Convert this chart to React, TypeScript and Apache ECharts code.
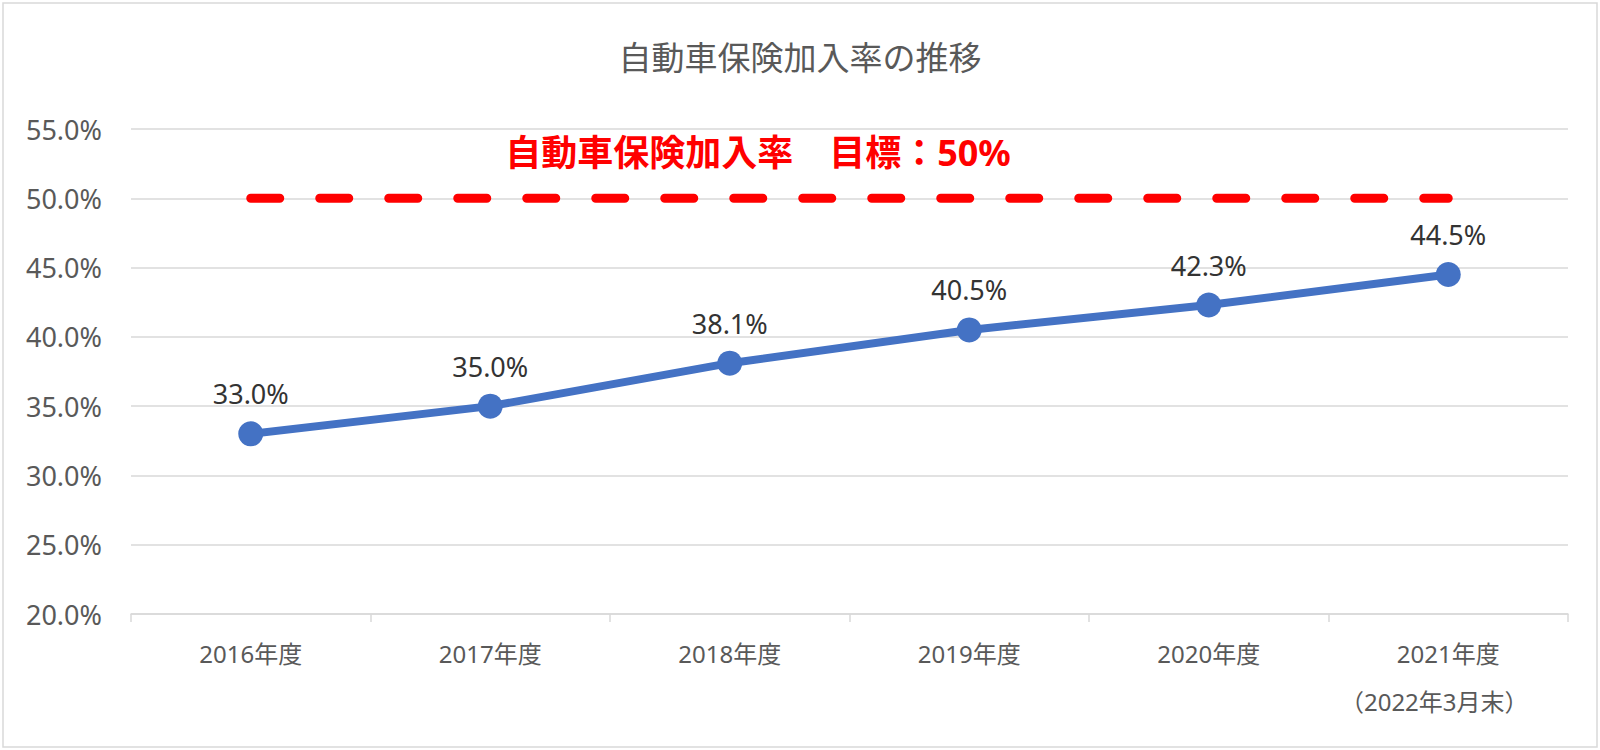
import React, { useEffect, useRef } from "react";
import * as echarts from "echarts";

const categories = ["2016年度", "2017年度", "2018年度", "2019年度", "2020年度", "2021年度\n{b|（2022年3月末）}"];
const rates = [33.0, 35.0, 38.1, 40.5, 42.3, 44.5];
const target = [50, 50, 50, 50, 50, 50];
const yMin = 20;
const yMax = 55;
const yStep = 5;
const titleText = "自動車保険加入率の推移";
const targetText = "自動車保険加入率　目標：50%";

const FONT = "'Noto Sans', 'Noto Sans CJK JP', sans-serif";

export default function App() {
  const ref = useRef<HTMLDivElement>(null);
  useEffect(() => {
    document.body.style.margin = "0";
    const chart = echarts.init(ref.current!, null, { renderer: "svg" });
    chart.setOption({
      animation: false,
      backgroundColor: "#ffffff",
      textStyle: { fontFamily: FONT },
      title: {
        text: titleText,
        left: "center",
        top: 36,
        textStyle: { fontFamily: FONT, fontSize: 33, fontWeight: "normal", color: "#595959" },
      },
      grid: { left: 131, right: 32, top: 129, bottom: 136, containLabel: false },
      xAxis: {
        type: "category",
        data: categories,
        boundaryGap: true,
        axisLine: { lineStyle: { color: "#d9d9d9", width: 1.5 } },
        axisTick: { show: true, length: 8, lineStyle: { color: "#d9d9d9", width: 1.5 } },
        axisLabel: {
          interval: 0,
          margin: 15,
          fontSize: 24,
          lineHeight: 48,
          color: "#595959",
          fontFamily: FONT,
          rich: {
            b: {
              fontSize: 24,
              lineHeight: 48,
              color: "#595959",
              fontFamily: FONT,
              padding: [0, 28, 0, 0],
            },
          },
        },
      },
      yAxis: {
        type: "value",
        min: yMin,
        max: yMax,
        interval: yStep,
        axisLine: { show: false },
        axisTick: { show: false },
        axisLabel: {
          margin: 29,
          fontSize: 27,
          color: "#595959",
          fontFamily: FONT,
          formatter: (v: number) => v.toFixed(1) + "%",
        },
        splitLine: { lineStyle: { color: "#d9d9d9", width: 1.5 } },
      },
      series: [
        {
          type: "line",
          data: target,
          symbol: "none",
          silent: true,
          z: 2,
          lineStyle: { color: "#ff0000", width: 9, type: [29, 40], cap: "round" },
        },
        {
          type: "line",
          data: rates,
          symbol: "circle",
          symbolSize: 25,
          z: 3,
          itemStyle: { color: "#4472c4" },
          lineStyle: { color: "#4472c4", width: 8 },
          label: {
            show: true,
            position: "top",
            distance: 14,
            fontSize: 27,
            color: "#333333",
            fontFamily: FONT,
            formatter: (p: any) => Number(p.value).toFixed(1) + "%",
          },
        },
      ],
      graphic: [
        {
          type: "rect",
          shape: { x: 3, y: 3, width: 1594, height: 744 },
          style: { fill: "none", stroke: "#d9d9d9", lineWidth: 1.5 },
          silent: true,
        },
        {
          type: "text",
          x: 758,
          y: 152,
          style: {
            text: targetText,
            fill: "#ff0000",
            font: "bold 36px 'Noto Sans', 'Noto Sans CJK JP', sans-serif",
            textAlign: "center",
            textVerticalAlign: "middle",
          },
        },
      ],
    });
    return () => chart.dispose();
  }, []);
  return <div ref={ref} style={{ width: 1600, height: 750 }} />;
}
